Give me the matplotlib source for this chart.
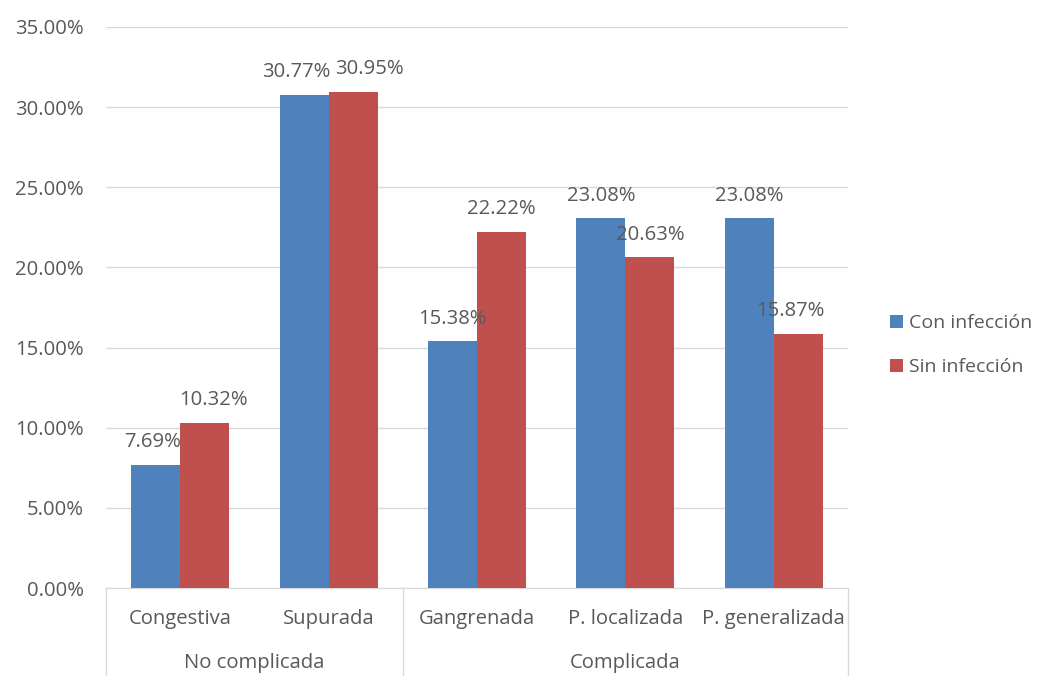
import matplotlib
matplotlib.use("Agg")
import matplotlib.pyplot as plt
import numpy as np
from matplotlib.ticker import FuncFormatter
from matplotlib.transforms import blended_transform_factory

categories = ["Congestiva", "Supurada", "Gangrenada", "P. localizada", "P. generalizada"]
groups = ["No complicada", "Complicada"]
group_sizes = [2, 3]
con_infeccion = [7.69, 30.77, 15.38, 23.08, 23.08]
sin_infeccion = [10.32, 30.95, 22.22, 20.63, 15.87]
series_names = ["Con infección", "Sin infección"]
yticks = [0, 5, 10, 15, 20, 25, 30, 35]

plt.rcParams['font.family'] = ['Open Sans', 'DejaVu Sans']
txt = '#595959'
fs = 14.6

fig = plt.figure(figsize=(10.41, 6.76), dpi=100)
ax = fig.add_axes([106/1041, 1-588/676, (848-106)/1041, (588-27)/676])

x = np.arange(len(categories))
w = 0.33
b1 = ax.bar(x - w/2, con_infeccion, w, color='#4F81BD', label=series_names[0], zorder=3)
b2 = ax.bar(x + w/2, sin_infeccion, w, color='#C0504D', label=series_names[1], zorder=3)

# horizontal nudges (in points) for data labels to avoid collisions, like Excel does
nudge_con = [-2, -6, 0, 0, 0]
nudge_sin = [6, 12, 0, 0, -6]
for bars, vals, nud in ((b1, con_infeccion, nudge_con), (b2, sin_infeccion, nudge_sin)):
    for r, v, n in zip(bars, vals, nud):
        ax.annotate(f"{v:.2f}%", (r.get_x() + r.get_width()/2, v), xytext=(n, 9),
                    textcoords='offset points', ha='center', va='bottom',
                    fontsize=fs, color=txt)

ax.set_xlim(-0.5, len(categories) - 0.5)
ax.set_ylim(0, 35)
ax.set_yticks(yticks)
ax.yaxis.set_major_formatter(FuncFormatter(lambda v, p: f"{v:.2f}%"))
ax.grid(axis='y', color='#d9d9d9', linewidth=1, zorder=0)
for s in ['top', 'right', 'left']:
    ax.spines[s].set_visible(False)
ax.spines['bottom'].set_color('#d9d9d9')
ax.tick_params(axis='y', length=0, labelsize=fs, labelcolor=txt, pad=16)
ax.set_xticks(x)
ax.set_xticklabels(categories)
ax.tick_params(axis='x', length=0, labelsize=fs, labelcolor=txt, pad=15)

trans = blended_transform_factory(ax.transData, ax.transAxes)
ext = -(676-588)/(588-27)
bounds = [-0.5]
for gs in group_sizes:
    bounds.append(bounds[-1] + gs)
for bx in bounds:
    ax.plot([bx, bx], [0, ext], transform=trans, color='#d9d9d9', lw=1, clip_on=False)
for i, g in enumerate(groups):
    cx = (bounds[i] + bounds[i+1]) / 2
    ax.text(cx, -(663-588)/(588-27), g, transform=trans, ha='center', va='center',
            fontsize=fs, color=txt)

fig.legend(handles=[b1, b2], labels=series_names, loc='center left',
           bbox_to_anchor=(873/1041, 1-345/676), frameon=False, fontsize=14,
           labelcolor=txt, handlelength=0.65, handleheight=0.65, handletextpad=0.3,
           labelspacing=1.35)

fig.savefig("out.png", dpi=100)
